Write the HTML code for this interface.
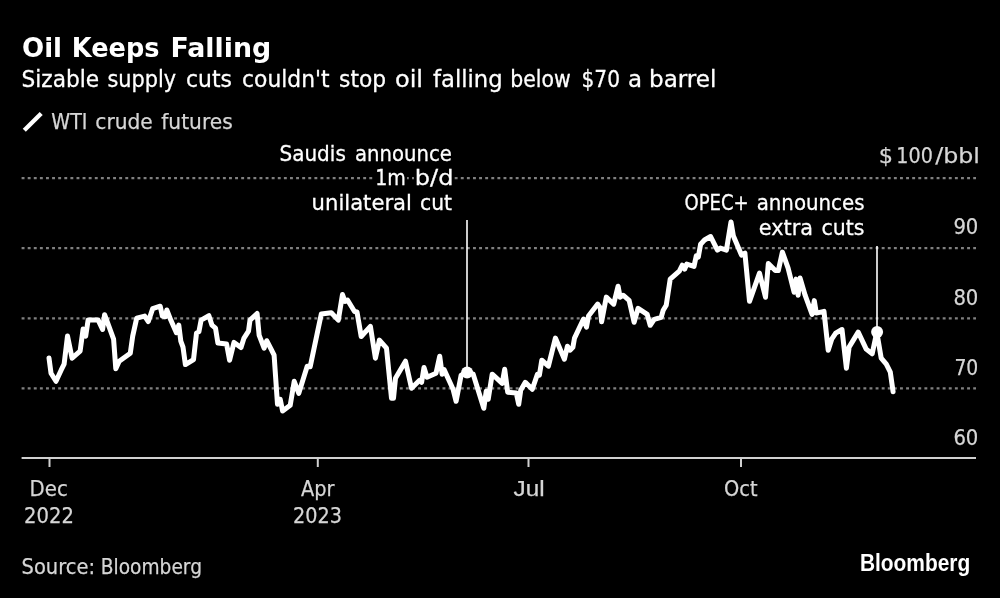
<!DOCTYPE html>
<html lang="en">
<head>
<meta charset="utf-8">
<title>Oil Keeps Falling</title>
<style>
html,body{margin:0;padding:0;background:#000;}
body{width:1000px;height:598px;overflow:hidden;}
svg{display:block;}
text{font-family:"DejaVu Sans", "Liberation Sans", sans-serif;}
.t{fill:#fff;font-weight:bold;font-size:26.5px;}
.s{fill:#fff;font-size:23px;stroke:#fff;stroke-width:0.3px;}
.l,.j{fill:#d6d6d6;font-size:21.6px;stroke:#d6d6d6;stroke-width:0.25px;}
.j{font-family:"Liberation Sans",sans-serif;font-size:22px;}
.a{fill:#fff;font-size:21.6px;stroke:#fff;stroke-width:0.3px;}
.b{fill:#fff;font-family:"Liberation Sans",sans-serif;font-weight:bold;font-size:23px;}
</style>
</head>
<body>
<svg width="1000" height="598" viewBox="0 0 1000 598">
<rect width="1000" height="598" fill="#000"/>
<line x1="21.6" y1="178.2" x2="976" y2="178.2" stroke="#808080" stroke-width="2.2" stroke-dasharray="2.9 3.2"/>
<line x1="21.6" y1="248.2" x2="976" y2="248.2" stroke="#808080" stroke-width="2.2" stroke-dasharray="2.9 3.2"/>
<line x1="21.6" y1="318.3" x2="976" y2="318.3" stroke="#808080" stroke-width="2.2" stroke-dasharray="2.9 3.2"/>
<line x1="21.6" y1="388.4" x2="976" y2="388.4" stroke="#808080" stroke-width="2.2" stroke-dasharray="2.9 3.2"/>
<rect x="375" y="176" width="32" height="5" fill="#000"/>
<rect x="414" y="176" width="40" height="5" fill="#000"/>
<line x1="21.6" y1="458" x2="976" y2="458" stroke="#d0d0d0" stroke-width="2"/>
<line x1="49.5" y1="458" x2="49.5" y2="467" stroke="#d0d0d0" stroke-width="2"/>
<line x1="317.8" y1="458" x2="317.8" y2="467" stroke="#d0d0d0" stroke-width="2"/>
<line x1="528.5" y1="458" x2="528.5" y2="467" stroke="#d0d0d0" stroke-width="2"/>
<line x1="741" y1="458" x2="741" y2="467" stroke="#d0d0d0" stroke-width="2"/>
<text class="t" y="57.0"><tspan x="22.02" textLength="40.03" lengthAdjust="spacingAndGlyphs">Oil</tspan> <tspan x="71.82" textLength="87.68" lengthAdjust="spacingAndGlyphs">Keeps</tspan> <tspan x="170.47" textLength="100.77" lengthAdjust="spacingAndGlyphs">Falling</tspan></text>
<text class="s" y="86.8"><tspan x="21.46" textLength="77.63" lengthAdjust="spacingAndGlyphs">Sizable</tspan> <tspan x="107.49" textLength="68.66" lengthAdjust="spacingAndGlyphs">supply</tspan> <tspan x="186.05" textLength="45.89" lengthAdjust="spacingAndGlyphs">cuts</tspan> <tspan x="242.05" textLength="87.47" lengthAdjust="spacingAndGlyphs">couldn't</tspan> <tspan x="339.05" textLength="47.01" lengthAdjust="spacingAndGlyphs">stop</tspan> <tspan x="394.95" textLength="28.1" lengthAdjust="spacingAndGlyphs">oil</tspan> <tspan x="433.0" textLength="69.58" lengthAdjust="spacingAndGlyphs">falling</tspan> <tspan x="510.22" textLength="60.5" lengthAdjust="spacingAndGlyphs">below</tspan> <tspan x="581.52" textLength="38.43" lengthAdjust="spacingAndGlyphs">$70</tspan> <tspan x="628.0" textLength="14.09" lengthAdjust="spacingAndGlyphs">a</tspan> <tspan x="649.0" textLength="67.4" lengthAdjust="spacingAndGlyphs">barrel</tspan></text>
<text class="l" y="129.3"><tspan x="51.25" textLength="36.21" lengthAdjust="spacingAndGlyphs">WTI</tspan> <tspan x="95.31" textLength="57.45" lengthAdjust="spacingAndGlyphs">crude</tspan> <tspan x="161.25" textLength="71.48" lengthAdjust="spacingAndGlyphs">futures</tspan></text>
<text class="l" y="163.3"><tspan x="878.66" textLength="14.24" lengthAdjust="spacingAndGlyphs">$</tspan> <tspan x="896.33" textLength="36.53" lengthAdjust="spacingAndGlyphs">100</tspan><tspan x="935.2" textLength="44.7" lengthAdjust="spacingAndGlyphs">/bbl</tspan></text>
<text class="l" x="953.39" y="234.4" textLength="24.98" lengthAdjust="spacingAndGlyphs">90</text>
<text class="l" x="953.39" y="304.5" textLength="24.98" lengthAdjust="spacingAndGlyphs">80</text>
<text class="l" x="954.43" y="374.5" textLength="23.91" lengthAdjust="spacingAndGlyphs">70</text>
<text class="l" x="953.39" y="444.5" textLength="24.98" lengthAdjust="spacingAndGlyphs">60</text>
<text class="l" x="29.57" y="496" textLength="38.23" lengthAdjust="spacingAndGlyphs">Dec</text>
<text class="l" x="24.09" y="523" textLength="49.89" lengthAdjust="spacingAndGlyphs">2022</text>
<text class="l" x="300.9" y="496" textLength="33.49" lengthAdjust="spacingAndGlyphs">Apr</text>
<text class="l" x="293.11" y="523" textLength="48.95" lengthAdjust="spacingAndGlyphs">2023</text>
<text class="j" x="513.6" y="496" textLength="30.98" lengthAdjust="spacingAndGlyphs">Jul</text>
<text class="l" x="724.1" y="496" textLength="33.52" lengthAdjust="spacingAndGlyphs">Oct</text>
<text class="l" y="573.8"><tspan x="21.6" textLength="73.45" lengthAdjust="spacingAndGlyphs">Source:</tspan> <tspan x="100.78" textLength="101.19" lengthAdjust="spacingAndGlyphs">Bloomberg</tspan></text>
<text class="b" x="859.89" y="571.0" textLength="110.36" lengthAdjust="spacingAndGlyphs">Bloomberg</text>
<line x1="24.3" y1="130.3" x2="41.2" y2="113.4" stroke="#fff" stroke-width="4.3"/>
<line x1="467" y1="220" x2="467" y2="372" stroke="#fff" stroke-width="1.6"/>
<line x1="877" y1="246" x2="877" y2="332" stroke="#fff" stroke-width="1.6"/>
<polyline fill="none" stroke="#fff" stroke-width="5" stroke-linejoin="round" stroke-linecap="round" points="49.0,358.0 51.0,373.2 56.0,381.3 61.1,370.2 64.1,364.2 67.5,336.1 72.1,358.2 80.1,351.2 83.1,329.1 85.7,336.1 88.1,320.1 98.2,320.1 102.6,329.5 104.6,314.7 109.2,327.1 113.6,339.1 115.8,368.8 119.2,361.2 130.3,353.2 132.7,336.1 136.7,318.1 144.7,316.1 148.3,321.5 152.7,308.6 160.2,306.2 162.4,316.1 165.4,316.7 166.8,310.0 170.8,320.1 176.4,332.7 178.8,325.1 180.8,341.1 183.0,347.2 185.4,364.6 193.5,359.6 196.5,333.1 198.9,331.7 201.1,320.1 208.9,315.7 211.9,325.1 215.5,328.1 217.9,343.1 226.6,344.1 229.6,360.2 234.0,342.4 241.0,347.6 244.0,338.1 248.5,331.1 250.0,320.1 257.1,313.5 259.1,335.1 264.1,348.2 266.7,340.7 271.1,349.2 274.1,355.2 277.5,404.3 280.2,399.3 282.6,411.0 290.2,405.3 294.2,381.3 298.8,393.3 307.2,366.2 310.2,366.8 321.3,314.1 331.3,312.7 338.3,320.1 342.5,294.5 345.0,301.5 347.5,300.0 354.5,311.5 357.0,312.0 361.2,336.5 370.4,326.3 375.4,358.2 379.4,340.1 386.5,348.2 391.5,398.3 393.5,398.3 395.5,378.2 405.5,361.2 411.5,388.3 419.6,380.3 421.6,382.3 424.0,367.4 427.0,377.2 436.0,373.2 439.7,356.2 442.1,374.2 444.1,369.6 453.1,389.3 456.1,401.3 461.1,375.2 467.1,372.2 473.2,374.2 483.8,408.3 486.2,391.3 488.2,399.3 492.2,374.2 502.2,383.3 504.7,369.2 507.7,392.3 516.3,392.9 518.7,404.3 520.7,390.3 525.3,382.3 532.3,389.3 537.4,374.2 539.4,375.2 541.8,360.2 548.4,366.2 555.4,338.1 564.4,359.2 567.4,346.2 570.0,350.2 572.9,347.2 574.5,338.1 583.5,319.1 586.5,327.1 588.5,316.1 597.7,304.1 600.2,307.6 601.6,321.7 606.3,297.1 613.7,304.2 618.1,286.2 620.1,297.2 623.1,295.2 629.1,300.3 634.1,322.3 638.1,308.3 647.2,314.3 650.2,325.3 654.2,319.3 661.2,317.3 663.2,310.3 666.2,305.3 670.2,279.2 679.3,271.2 682.3,265.2 684.7,269.2 686.7,264.1 694.0,266.4 696.3,255.8 698.3,257.0 700.6,244.2 704.5,240.0 710.6,236.5 717.4,250.1 720.4,248.1 726.4,250.1 731.0,222.0 733.4,236.1 741.5,255.1 744.9,253.1 749.5,301.3 759.5,273.2 765.5,297.2 768.3,263.6 775.3,270.6 778.3,270.6 782.4,252.1 788.1,268.1 794.1,292.2 796.1,279.1 798.1,295.2 800.1,278.1 805.1,295.2 812.1,314.3 814.3,300.6 816.3,313.1 824.0,311.4 828.2,350.2 831.7,339.2 835.7,333.2 842.0,329.5 846.4,368.2 849.1,347.1 858.2,332.1 866.2,349.1 872.2,353.8 876.8,332.1 881.2,358.2 886.3,364.2 890.3,372.2 893.1,391.8"/>
<circle cx="467.1" cy="372.6" r="6" fill="#fff"/>
<circle cx="877.1" cy="332.1" r="6" fill="#fff"/>
<text class="a" y="161"><tspan x="279.47" textLength="66.36" lengthAdjust="spacingAndGlyphs">Saudis</tspan> <tspan x="355.09" textLength="96.77" lengthAdjust="spacingAndGlyphs">announce</tspan></text>
<text class="a" y="185.4"><tspan x="375.24" textLength="30.68" lengthAdjust="spacingAndGlyphs">1m</tspan> <tspan x="414.89" textLength="38.61" lengthAdjust="spacingAndGlyphs">b/d</tspan></text>
<text class="a" y="209.7"><tspan x="311.62" textLength="100.34" lengthAdjust="spacingAndGlyphs">unilateral</tspan> <tspan x="420.06" textLength="31.98" lengthAdjust="spacingAndGlyphs">cut</tspan></text>
<text class="a" y="210.4"><tspan x="684.56" textLength="64.18" lengthAdjust="spacingAndGlyphs">OPEC+</tspan> <tspan x="756.68" textLength="107.85" lengthAdjust="spacingAndGlyphs">announces</tspan></text>
<text class="a" y="235"><tspan x="758.84" textLength="54.25" lengthAdjust="spacingAndGlyphs">extra</tspan> <tspan x="821.55" textLength="42.99" lengthAdjust="spacingAndGlyphs">cuts</tspan></text>
</svg>
</body>
</html>
